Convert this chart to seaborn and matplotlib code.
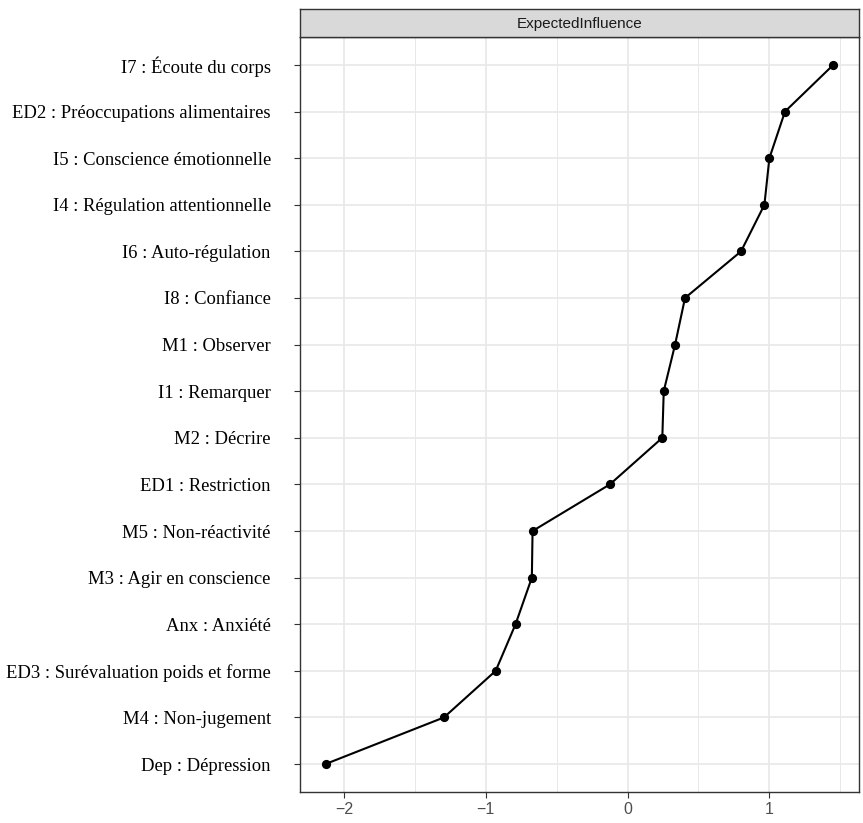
import matplotlib
matplotlib.use("Agg")
import matplotlib.pyplot as plt
import seaborn as sns
import pandas as pd
from matplotlib.ticker import MultipleLocator

# Expected influence centrality (standardised), top to bottom
labels = [
    "I7 : Écoute du corps",
    "ED2 : Préoccupations alimentaires",
    "I5 : Conscience émotionnelle",
    "I4 : Régulation attentionnelle",
    "I6 : Auto-régulation",
    "I8 : Confiance",
    "M1 : Observer",
    "I1 : Remarquer",
    "M2 : Décrire",
    "ED1 : Restriction",
    "M5 : Non-réactivité",
    "M3 : Agir en conscience",
    "Anx : Anxiété",
    "ED3 : Surévaluation poids et forme",
    "M4 : Non-jugement",
    "Dep : Dépression",
]
values = [1.45, 1.11, 1.00, 0.965, 0.80, 0.405, 0.335, 0.255, 0.245,
          -0.125, -0.67, -0.675, -0.79, -0.93, -1.295, -2.13]
x_ticks = [-2, -1, 0, 1]

df = pd.DataFrame({"node": labels, "ExpectedInfluence": values})

sns.set_style("white")
plt.rcParams["font.family"] = ["Liberation Sans", "DejaVu Sans"]

W, H = 863, 823
fig = plt.figure(figsize=(W / 100, H / 100), dpi=100)
ax = fig.add_axes([300 / W, 31 / H, 559 / W, 755 / H])

grid_col = "#E8E8E8"
sns.pointplot(data=df, x="ExpectedInfluence", y="node", order=labels, orient="h",
              color="black", markers="o", linestyles="-", errorbar=None,
              markersize=5.5, linewidth=1.5, ax=ax, zorder=5)

ax.set_xlim(-2.31, 1.632)
ax.set_ylim(len(labels) - 1 + 0.6, -0.6)
ax.set_xticks(x_ticks)
ax.set_xticklabels(["\u22122", "\u22121", "0", "1"])
ax.xaxis.set_minor_locator(MultipleLocator(0.5))
ax.grid(True, which="major", color=grid_col, linewidth=1.2, zorder=0)
ax.grid(True, which="minor", axis="x", color=grid_col, linewidth=0.7, zorder=0)
ax.set_axisbelow(True)
ax.set_xlabel("")
ax.set_ylabel("")

for s in ax.spines.values():
    s.set_color("#333333")
    s.set_linewidth(1.0)

ax.tick_params(axis="x", which="major", length=4, width=0.8, color="#333333",
               labelsize=11.5, labelcolor="#4D4D4D", pad=3, bottom=True)
ax.tick_params(axis="x", which="minor", length=0)
ax.tick_params(axis="y", length=4, width=0.8, color="#333333", pad=17, left=True)
for t in ax.get_yticklabels():
    t.set_fontfamily(["Liberation Serif", "DejaVu Serif"])
    t.set_fontsize(13.4)
    t.set_color("black")

# facet strip
strip = fig.add_axes([300 / W, (H - 37) / H, 559 / W, 28 / H])
strip.set_facecolor("#D9D9D9")
strip.set_xticks([])
strip.set_yticks([])
for s in strip.spines.values():
    s.set_color("#333333")
    s.set_linewidth(1.0)
strip.text(0.5, 0.45, "ExpectedInfluence", ha="center", va="center",
           fontsize=11, color="#1A1A1A", transform=strip.transAxes)

fig.savefig("out.png", dpi=100, facecolor="white")
